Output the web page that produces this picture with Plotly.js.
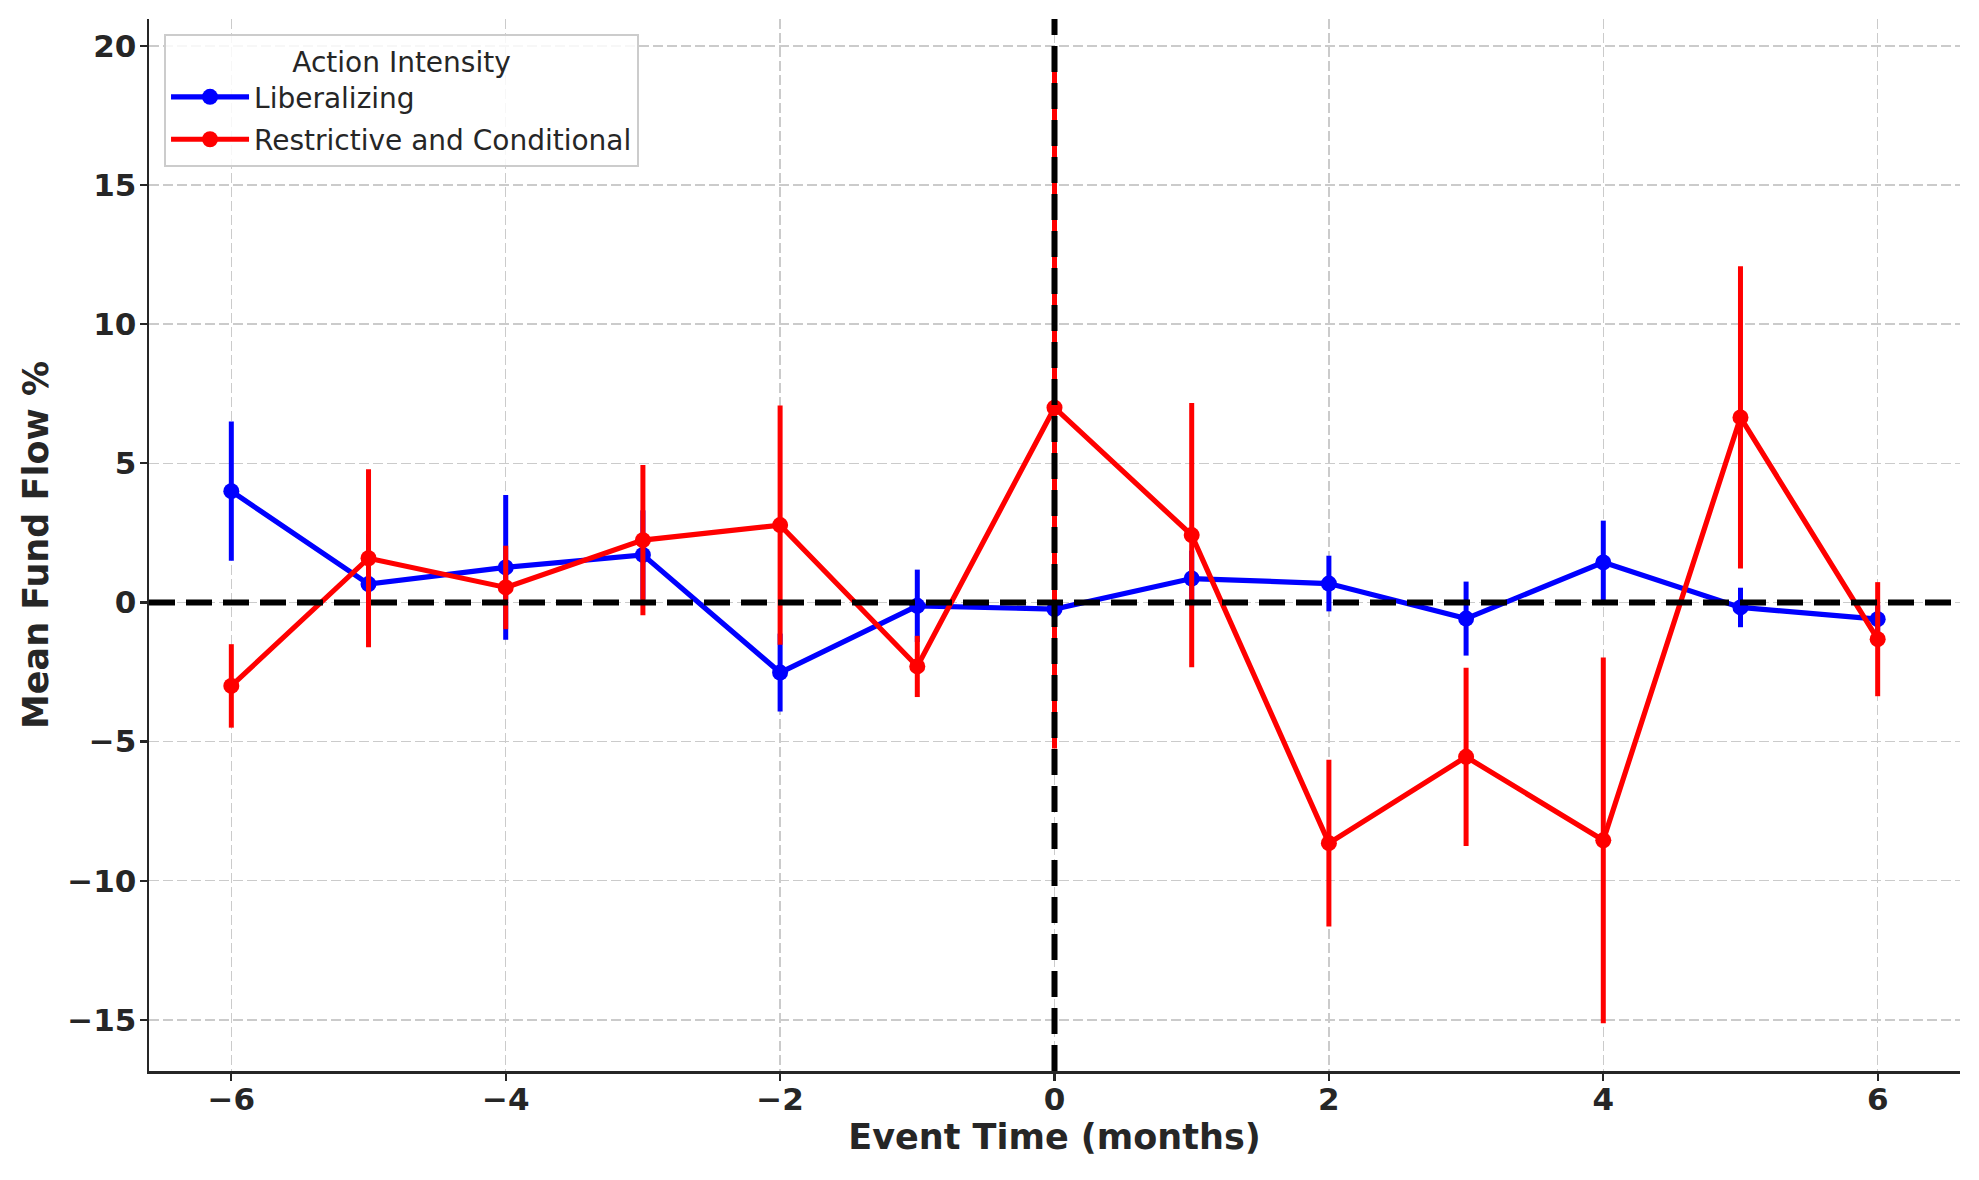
<!DOCTYPE html>
<html>
<head>
<meta charset="utf-8">
<script src="https://cdn.plot.ly/plotly-3.0.1.min.js"></script>
<style>
  html, body { margin: 0; padding: 0; background: #ffffff; }
  #chart { width: 1979px; height: 1180px; }
</style>
</head>
<body>
<div id="chart"></div>
<script>
// Event time (months)
const eventTime = [-6, -5, -4, -3, -2, -1, 0, 1, 2, 3, 4, 5, 6];

// Liberalizing: mean fund flow % and error
const liberalizingMean = [4.0, 0.66, 1.26, 1.71, -2.52, -0.12, -0.24, 0.86, 0.68, -0.58, 1.44, -0.18, -0.60];
const liberalizingErr  = [2.5, 1.8, 2.6, 1.6, 1.4, 1.3, 0.5, 1.0, 1.0, 1.33, 1.5, 0.71, 0.5];

// Restrictive and Conditional: mean fund flow % and error
const restrictiveMean = [-3.0, 1.59, 0.54, 2.24, 2.78, -2.3, 7.0, 2.42, -8.65, -5.55, -8.55, 6.65, -1.32];
const restrictiveErr  = [1.5, 3.2, 1.5, 2.7, 4.3, 1.1, 12.25, 4.75, 3.0, 3.2, 6.57, 5.43, 2.05];

const seriesNames = ['Liberalizing', 'Restrictive and Conditional'];
const legendTitle = 'Action Intensity';
const xTitle = 'Event Time (months)';
const yTitle = 'Mean Fund Flow %';

const FONT = 'DejaVu Sans, Liberation Sans, sans-serif';
const TEXT = '#262626';

function series(name, y, err, color, group) {
  return {
    type: 'scatter',
    mode: 'lines+markers',
    name: name,
    legendgroup: group,
    x: eventTime,
    y: y,
    line: { color: color, width: 5.2 },
    marker: { color: color, size: 16 },
    error_y: { type: 'data', array: err, visible: true, color: color, thickness: 5, width: 0 }
  };
}

const data = [
  series(seriesNames[0], liberalizingMean, liberalizingErr, '#0000ff', 'g1'),
  series(seriesNames[1], restrictiveMean, restrictiveErr, '#ff0000', 'g2')
];

const layout = {
  width: 1979,
  height: 1180,
  margin: { l: 149, r: 19, t: 19, b: 109 },
  paper_bgcolor: '#ffffff',
  plot_bgcolor: '#ffffff',
  font: { family: FONT, color: TEXT },
  showlegend: true,
  legend: {
    x: 0.0083, y: 0.986, xanchor: 'left', yanchor: 'top',
    bgcolor: 'rgba(255,255,255,0.85)',
    bordercolor: '#cccccc', borderwidth: 2,
    font: { family: FONT, size: 28, color: TEXT },
    title: { text: legendTitle, side: 'top center', font: { family: FONT, size: 28, color: TEXT } },
    itemwidth: 78,
    tracegroupgap: 3
  },
  xaxis: {
    range: [-6.6, 6.6],
    tickmode: 'linear', tick0: -6, dtick: 2,
    ticks: 'outside', ticklen: 7, tickwidth: 2.2, tickcolor: TEXT,
    showline: true, linecolor: TEXT, linewidth: 2.5,
    mirror: false,
    showgrid: true, gridcolor: '#cbcbcb', gridwidth: 1.5, griddash: '10px,4px',
    zeroline: false,
    ticklabelstandoff: -8,
    tickfont: { family: FONT, size: 31, weight: 'bold', color: TEXT },
    title: { text: xTitle, standoff: 8, font: { family: FONT, size: 35, weight: 'bold', color: TEXT } }
  },
  yaxis: {
    range: [-16.84, 20.97],
    tickmode: 'linear', tick0: -15, dtick: 5,
    ticks: 'outside', ticklen: 7, tickwidth: 2.2, tickcolor: TEXT,
    showline: true, linecolor: TEXT, linewidth: 2.5,
    mirror: false,
    showgrid: true, gridcolor: '#cbcbcb', gridwidth: 1.5, griddash: '10px,4px',
    zeroline: false,
    ticklabelstandoff: -3,
    tickfont: { family: FONT, size: 31, weight: 'bold', color: TEXT },
    title: { text: yTitle, standoff: 8, font: { family: FONT, size: 35, weight: 'bold', color: TEXT } }
  },
  shapes: [
    { type: 'line', xref: 'paper', yref: 'y', x0: 0, x1: 1, y0: 0, y1: 0,
      line: { color: '#000000', width: 6, dash: '26px,11px' }, layer: 'above' },
    { type: 'line', xref: 'x', yref: 'paper', x0: 0, x1: 0, y0: 0, y1: 1,
      line: { color: '#000000', width: 6, dash: '26px,11px' }, layer: 'above' }
  ]
};

Plotly.newPlot('chart', data, layout, { displayModeBar: false, staticPlot: true });
</script>
</body>
</html>
